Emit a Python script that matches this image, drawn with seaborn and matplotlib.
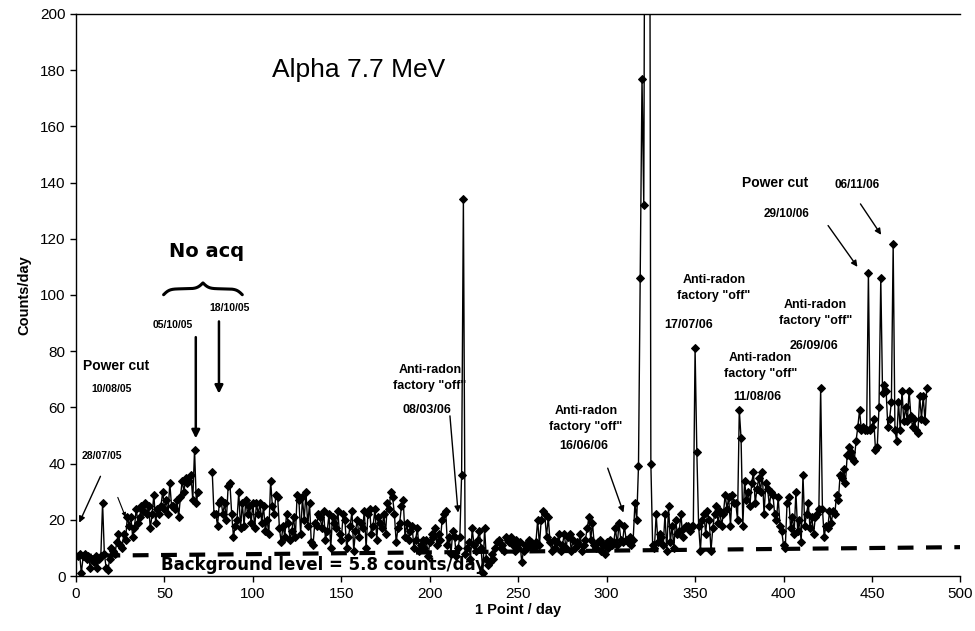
import numpy as np
import pandas as pd
import matplotlib
matplotlib.use("Agg")
from matplotlib import pyplot as plt
import seaborn as sns

# counts per day, days 1..69 (before the acquisition gap)
counts_a = [7, 8, 1, 7, 8, 6, 7, 3, 6, 5,
            7, 3, 6, 7, 26, 8, 3, 2, 6, 10,
            9, 8, 12, 15, 11, 10, 15, 13, 21, 18,
            21, 14, 17, 24, 19, 21, 25, 23, 26, 22,
            25, 17, 22, 29, 19, 24, 22, 25, 30, 24,
            27, 22, 33, 25, 25, 24, 27, 21, 28, 34,
            30, 35, 33, 34, 36, 27, 45, 26, 30]

# counts per day, days 77..481 (after the gap); 322-324 are off scale
counts_b = [37, 22, 22, 18,
            26, 27, 22, 26, 20, 32, 33, 22, 14, 18,
            20, 30, 17, 26, 18, 27, 22, 25, 19, 26,
            17, 26, 22, 26, 19, 25, 16, 20, 15, 34,
            25, 22, 29, 28, 17, 12, 18, 14, 22, 19,
            13, 16, 21, 14, 29, 27, 15, 28, 20, 30,
            18, 26, 12, 11, 19, 18, 22, 21, 17, 23,
            13, 16, 22, 10, 21, 19, 17, 23, 15, 13,
            22, 20, 10, 14, 18, 23, 9, 16, 20, 14,
            19, 17, 23, 10, 22, 24, 15, 18, 24, 13,
            21, 19, 17, 22, 15, 26, 24, 30, 28, 22,
            12, 17, 19, 25, 27, 14, 19, 13, 16, 18,
            10, 13, 17, 9, 11, 13, 10, 13, 7, 12,
            15, 14, 17, 11, 15, 13, 20, 22, 23, 11,
            14, 8, 16, 14, 7, 10, 14, 36, 134, 8,
            10, 12, 6, 17, 11, 9, 13, 16, 10, 1,
            17, 6, 4, 5, 8, 6, 10, 12, 13, 10,
            11, 9, 14, 13, 12, 14, 11, 9, 13, 10,
            12, 5, 9, 11, 10, 13, 12, 11, 10, 12,
            20, 11, 20, 23, 22, 14, 21, 12, 9, 13,
            10, 12, 15, 9, 11, 15, 10, 14, 15, 9,
            13, 10, 12, 11, 15, 9, 11, 13, 17, 21,
            13, 19, 11, 10, 12, 13, 9, 11, 8, 12,
            10, 13, 11, 12, 17, 11, 19, 13, 12, 18,
            13, 12, 14, 11, 13, 26, 20, 39, 106, 177,
            132, 350, 420, 380, 40, 11, 10, 22, 12, 15,
            14, 11, 22, 9, 25, 12, 18, 10, 20, 15,
            16, 22, 14, 17, 18, 18, 16, 18, 18, 81,
            44, 18, 9, 20, 22, 15, 23, 20, 9, 17,
            22, 25, 19, 23, 18, 22, 29, 24, 28, 18,
            29, 26, 26, 20, 59, 49, 18, 34, 27, 30,
            25, 33, 37, 26, 31, 35, 30, 37, 22, 33,
            31, 25, 30, 29, 22, 20, 28, 18, 16, 11,
            10, 26, 28, 17, 21, 15, 30, 16, 20, 12,
            36, 18, 22, 26, 17, 21, 15, 21, 22, 24,
            67, 24, 14, 18, 17, 23, 19, 23, 22, 29,
            27, 36, 35, 38, 33, 43, 46, 44, 42, 41,
            48, 53, 59, 52, 53, 52, 52, 108, 52, 53,
            56, 45, 46, 60, 106, 65, 68, 66, 53, 56,
            62, 118, 52, 48, 62, 52, 66, 55, 60, 55,
            66, 57, 53, 56, 52, 51, 64, 56, 64, 55, 67]

days_a = list(range(1, 1 + len(counts_a)))
days_b = list(range(77, 77 + len(counts_b)))

# background reference line (start/end)
bg_x = [0, 500]
bg_y = [7.2, 10.3]

df = pd.DataFrame({
    "day": days_a + days_b,
    "counts": counts_a + counts_b,
    "segment": ["a"] * len(days_a) + ["b"] * len(days_b),
})

sns.set_style("ticks")
plt.rcParams["font.family"] = ["Liberation Sans", "DejaVu Sans"]
plt.rcParams["text.color"] = "black"
plt.rcParams["axes.labelcolor"] = "black"
plt.rcParams["xtick.color"] = "black"
plt.rcParams["ytick.color"] = "black"

fig = plt.figure(figsize=(9.75, 6.31), dpi=100)
ax = fig.add_axes([0.078, 0.087, 0.907, 0.891])

sns.lineplot(data=df, x="day", y="counts", units="segment", estimator=None,
             color="black", linewidth=1, marker="D", markersize=4.5,
             markeredgecolor="black", ax=ax, legend=False)

ax.plot(bg_x, bg_y, color="black", linewidth=3, linestyle=(0, (3.8, 3.0)))

ax.set_xlim(0, 500)
ax.set_ylim(0, 200)
ax.set_xticks(range(0, 501, 50))
ax.set_yticks(range(0, 201, 20))
ax.tick_params(labelsize=11, direction="out", length=4, width=1,
               color="black", labelcolor="black")
ax.set_xlabel("1 Point / day", fontsize=10.5, fontweight="bold", labelpad=2)
ax.set_ylabel("Counts/day", fontsize=10.5, fontweight="bold", labelpad=6)
for s in ["left", "bottom", "top"]:
    ax.spines[s].set_color("black")
    ax.spines[s].set_linewidth(1)
ax.spines["right"].set_visible(False)

# texts
ax.text(160, 180, "Alpha 7.7 MeV", fontsize=19, ha="center", va="center")
ax.text(74, 115.5, "No acq", fontsize=14, fontweight="bold", ha="center",
        va="center", family="DejaVu Sans")
ax.text(48, 4, "Background level = 5.8 counts/day", fontsize=12,
        fontweight="bold", ha="left", va="center", family="DejaVu Sans")

# brace over the gap
bx = np.linspace(49.5, 94, 201)
half = bx[:101]
beta = 0.6
hb = 1 / (1 + np.exp(-beta * (half - half[0]))) + 1 / (1 + np.exp(-beta * (half - half[-1])))
by = np.concatenate((hb, hb[-2::-1]))
ax.plot(bx, 98 + 4.2 * by, color="black", linewidth=2.2, clip_on=False)

bold = dict(fontweight="bold", ha="center", va="center")
ax.text(22.6, 74.6, "Power cut", fontsize=10, **bold)
ax.text(20, 66.6, "10/08/05", fontsize=7.5, **bold)
ax.text(14.8, 42.7, "28/07/05", fontsize=7.5, **bold)
ax.text(54.7, 89.2, "05/10/05", fontsize=7.5, **bold)
ax.text(87, 95.3, "18/10/05", fontsize=7.5, **bold)

ax.text(200, 70.6, 'Anti-radon\nfactory "off"', fontsize=9, linespacing=1.45, **bold)
ax.text(198.3, 59.1, "08/03/06", fontsize=9, **bold)
ax.text(288.3, 56, 'Anti-radon\nfactory "off"', fontsize=9, linespacing=1.45, **bold)
ax.text(287, 46.2, "16/06/06", fontsize=9, **bold)
ax.text(360.6, 102.5, 'Anti-radon\nfactory "off"', fontsize=9, linespacing=1.45, **bold)
ax.text(346.5, 89.5, "17/07/06", fontsize=9, **bold)
ax.text(387, 74.8, 'Anti-radon\nfactory "off"', fontsize=9, linespacing=1.45, **bold)
ax.text(385.3, 63.7, "11/08/06", fontsize=9, **bold)
ax.text(418.1, 93.5, 'Anti-radon\nfactory "off"', fontsize=9, linespacing=1.45, **bold)
ax.text(417, 82, "26/09/06", fontsize=9, **bold)
ax.text(395.2, 140, "Power cut", fontsize=10, **bold)
ax.text(441.8, 139.3, "06/11/06", fontsize=8.5, **bold)
ax.text(401.9, 128.8, "29/10/06", fontsize=8.5, **bold)

def arrow(x0, y0, x1, y1, lw=1.0, ms=9):
    ax.annotate("", xy=(x1, y1), xytext=(x0, y0),
                arrowprops=dict(arrowstyle="-|>", color="black", lw=lw,
                                mutation_scale=ms, shrinkA=0, shrinkB=0))

arrow(13.8, 35.5, 1.8, 19.0)
arrow(23.6, 28.0, 28.0, 21.0, lw=0.8, ms=6)
arrow(67.7, 85.0, 67.7, 49.0, lw=1.8, ms=12)
arrow(80.8, 90.6, 80.8, 64.9, lw=1.8, ms=12)
arrow(211.4, 57.0, 216.0, 22.6)
arrow(300.6, 38.4, 309.5, 22.6)
arrow(443.5, 132.4, 455.2, 121.4)
arrow(425.2, 124.7, 441.8, 110.0)

plt.savefig("out.png", dpi=100)
